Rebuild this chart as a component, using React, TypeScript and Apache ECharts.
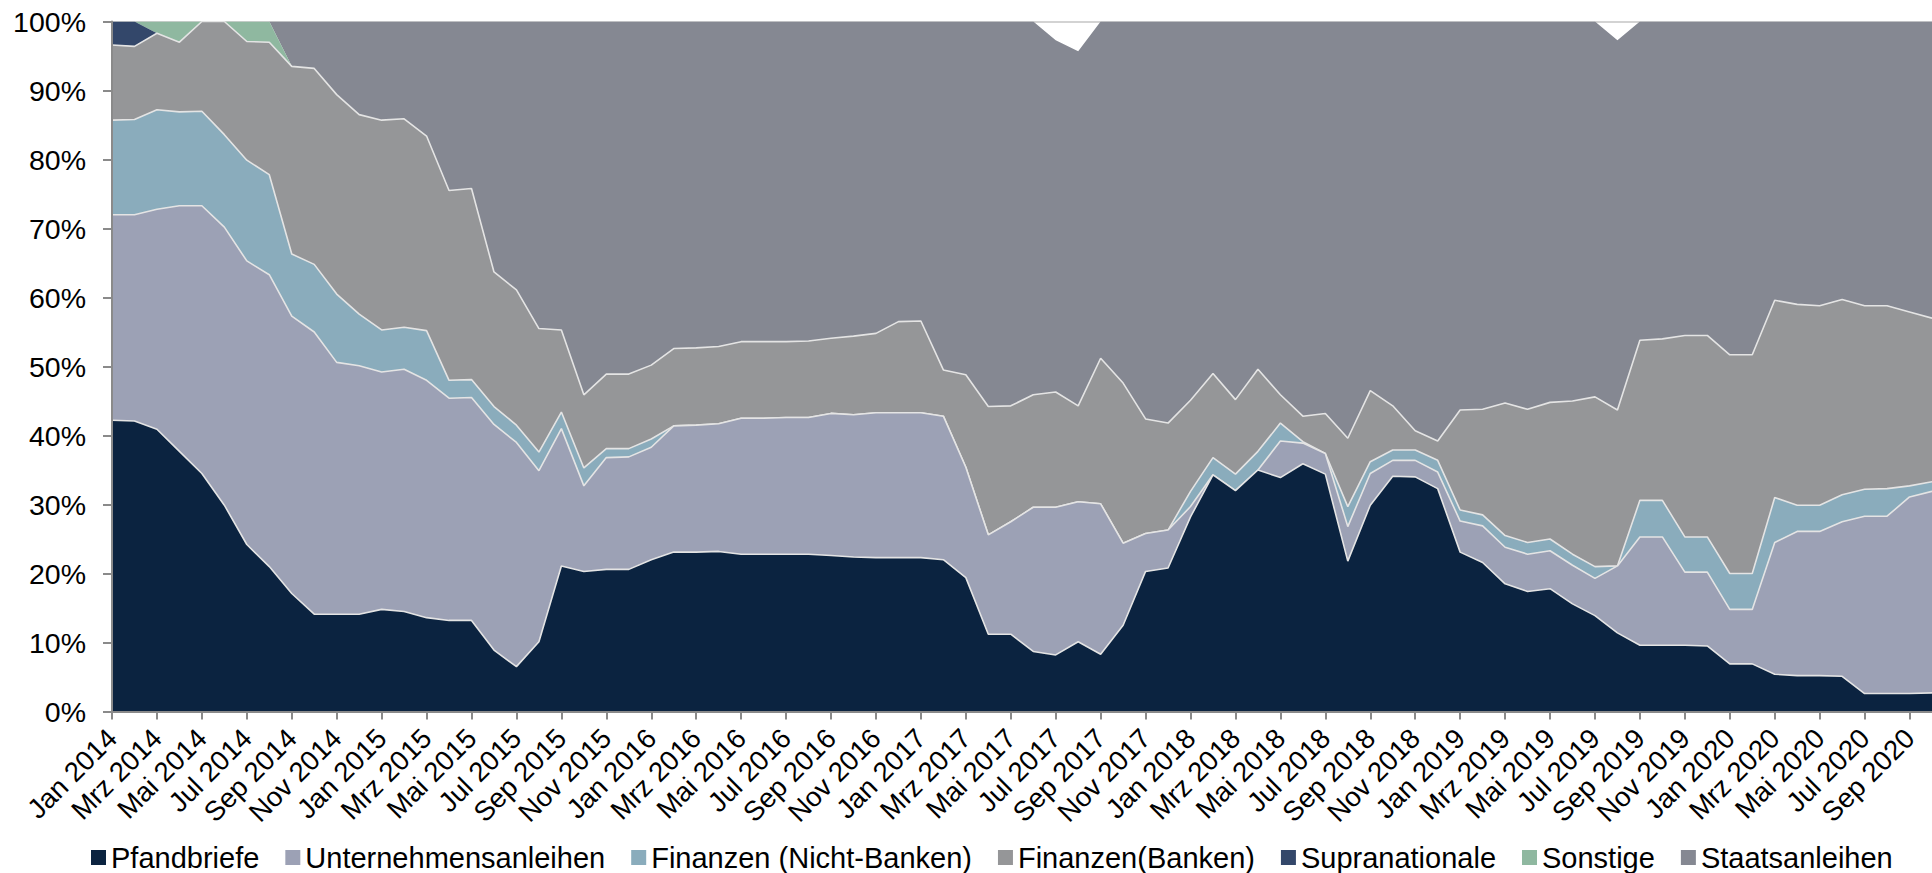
import React, { useEffect, useRef } from "react";
import * as echarts from "echarts";

const monthNames = ["Jan", "Feb", "Mrz", "Apr", "Mai", "Jun", "Jul", "Aug", "Sep", "Okt", "Nov", "Dez"];
const years = [2014, 2015, 2016, 2017, 2018, 2019, 2020];
const monthCount = 82;
const categories: string[] = [];
for (let i = 0; i < monthCount; i++) {
  categories.push(`${monthNames[i % 12]} ${years[Math.floor(i / 12)]}`);
}

const seriesNames = [
  "Pfandbriefe",
  "Unternehmensanleihen",
  "Finanzen (Nicht-Banken)",
  "Finanzen(Banken)",
  "Supranationale",
  "Sonstige",
  "Staatsanleihen",
];

const seriesColors = ["#0b2340", "#9ca1b5", "#8aacbc", "#959698", "#33476a", "#8fb8a0", "#858892"];

const pfandbriefe = [
  42.2, 42.1, 40.9, 37.7, 34.5, 29.9, 24.2, 21.0, 17.1, 14.1,
  14.1, 14.1, 14.8, 14.5, 13.6, 13.2, 13.2, 8.9, 6.5, 10.1,
  21.1, 20.3, 20.6, 20.6, 22.0, 23.1, 23.1, 23.2, 22.8, 22.8,
  22.8, 22.8, 22.6, 22.4, 22.3, 22.3, 22.3, 22.0, 19.4, 11.2,
  11.2, 8.7, 8.2, 10.1, 8.3, 12.5, 20.3, 20.8, 28.2, 34.3,
  32.0, 35.0, 33.9, 35.9, 34.4, 21.8, 29.9, 34.1, 34.0, 32.3,
  23.1, 21.6, 18.5, 17.4, 17.8, 15.6, 13.9, 11.4, 9.6, 9.6,
  9.6, 9.5, 6.9, 6.9, 5.4, 5.2, 5.2, 5.1, 2.6, 2.6,
  2.6, 2.7,
];

const unternehmensanleihen = [
  29.8, 29.9, 31.9, 35.6, 38.8, 40.3, 41.1, 42.3, 40.2, 40.9,
  36.5, 36.0, 34.4, 35.1, 34.4, 32.2, 32.3, 32.7, 32.5, 24.8,
  19.9, 12.4, 16.2, 16.3, 16.3, 18.3, 18.4, 18.5, 19.7, 19.7,
  19.8, 19.8, 20.6, 20.6, 21.0, 21.0, 21.0, 20.8, 16.0, 14.4,
  16.3, 20.9, 21.4, 20.3, 21.8, 11.9, 5.5, 5.5, 1.5, 0,
  0, 0, 5.3, 3.0, 3.0, 5.0, 4.6, 2.3, 2.4, 2.4,
  4.5, 5.3, 5.3, 5.4, 5.5, 5.6, 5.4, 9.7, 15.7, 15.7,
  10.6, 10.7, 7.9, 7.9, 19.1, 20.9, 20.9, 22.4, 25.7, 25.7,
  28.5, 29.2,
];

const finanzenNichtBanken = [
  13.7, 13.8, 14.4, 13.6, 13.7, 13.4, 14.6, 14.5, 9.0, 9.8,
  9.9, 7.5, 6.1, 6.1, 7.2, 2.6, 2.6, 2.6, 2.5, 2.7,
  2.4, 2.6, 1.3, 1.2, 1.2, 0, 0, 0, 0, 0,
  0, 0, 0, 0, 0, 0, 0, 0, 0, 0,
  0, 0, 0, 0, 0, 0, 0, 0, 2.2, 2.5,
  2.4, 2.7, 2.6, 0.2, 0, 2.9, 1.7, 1.5, 1.5, 1.7,
  1.6, 1.6, 1.7, 1.7, 1.7, 1.6, 1.7, 0, 5.3, 5.3,
  5.1, 5.1, 5.2, 5.2, 6.5, 3.8, 3.8, 3.9, 3.9, 4.0,
  1.6, 1.4,
];

const finanzenBanken = [
  10.9, 10.6, 11.1, 10.1, 13.0, 16.4, 17.2, 19.2, 27.2, 28.4,
  28.9, 28.9, 30.4, 30.2, 28.2, 27.5, 27.7, 19.5, 19.6, 17.9,
  11.9, 10.6, 10.8, 10.8, 10.7, 11.2, 11.2, 11.2, 11.1, 11.1,
  11.0, 11.1, 10.9, 11.4, 11.5, 13.2, 13.3, 6.7, 13.4, 18.6,
  16.8, 16.3, 16.7, 13.9, 21.1, 23.2, 16.6, 15.5, 13.2, 12.2,
  10.8, 11.9, 4.1, 3.7, 5.8, 9.9, 10.3, 6.4, 2.8, 2.8,
  14.5, 15.3, 19.2, 19.3, 19.8, 22.2, 24.6, 22.6, 23.2, 23.4,
  29.2, 29.2, 31.7, 31.7, 28.6, 29.1, 28.9, 28.3, 26.6, 26.5,
  25.2, 23.7,
];

const supranationale = [
  3.4, 3.6, 0, 0, 0, 0, 0, 0, 0, 0,
  0, 0, 0, 0, 0, 0, 0, 0, 0, 0,
  0, 0, 0, 0, 0, 0, 0, 0, 0, 0,
  0, 0, 0, 0, 0, 0, 0, 0, 0, 0,
  0, 0, 0, 0, 0, 0, 0, 0, 0, 0,
  0, 0, 0, 0, 0, 0, 0, 0, 0, 0,
  0, 0, 0, 0, 0, 0, 0, 0, 0, 0,
  0, 0, 0, 0, 0, 0, 0, 0, 0, 0,
  0, 0,
];

const sonstige = [
  0, 0, 1.7, 3.0, 0, 0, 2.9, 3.0, 0, 0,
  0, 0, 0, 0, 0, 0, 0, 0, 0, 0,
  0, 0, 0, 0, 0, 0, 0, 0, 0, 0,
  0, 0, 0, 0, 0, 0, 0, 0, 0, 0,
  0, 0, 0, 0, 0, 0, 0, 0, 0, 0,
  0, 0, 0, 0, 0, 0, 0, 0, 0, 0,
  0, 0, 0, 0, 0, 0, 0, 0, 0, 0,
  0, 0, 0, 0, 0, 0, 0, 0, 0, 0,
  0, 0,
];

const staatsanleihen = [
  0, 0, 0, 0, 0, 0, 0, 0, 6.5, 6.8,
  10.6, 13.5, 14.3, 14.1, 16.6, 24.5, 24.2, 36.3, 38.9, 44.5,
  44.7, 54.1, 51.1, 51.1, 49.8, 47.4, 47.3, 47.1, 46.4, 46.4,
  46.4, 46.3, 45.9, 45.6, 45.2, 43.5, 43.4, 50.5, 51.2, 55.8,
  55.7, 54.1, 51.0, 51.4, 48.8, 52.4, 57.6, 58.2, 54.9, 51.0,
  54.8, 50.4, 54.1, 57.2, 56.8, 60.4, 53.5, 55.7, 59.3, 60.8,
  56.3, 56.2, 55.3, 56.2, 55.2, 55.0, 54.4, 53.6, 46.2, 46.0,
  45.5, 45.5, 48.3, 48.3, 40.4, 41.0, 41.2, 40.3, 41.2, 41.2,
  42.1, 43.0,
];

const seriesData = [
  pfandbriefe,
  unternehmensanleihen,
  finanzenNichtBanken,
  finanzenBanken,
  supranationale,
  sonstige,
  staatsanleihen,
];

const FONT = "'Liberation Sans', Arial, Helvetica, sans-serif";

export default function App() {
  const ref = useRef<HTMLDivElement>(null);

  useEffect(() => {
    if (!ref.current) return;
    const chart = echarts.init(ref.current, undefined, { renderer: "svg" });
    const series = seriesNames.map((name, k) => ({
      name,
      type: "line",
      stack: "total",
      yAxisIndex: 0,
      data: seriesData[k],
      symbol: "none",
      showSymbol: false,
      silent: true,
      z: 20 - k,
      itemStyle: { color: seriesColors[k] },
      lineStyle: k < 4 ? { color: "#e4e4e4", width: 1.6 } : { width: 0, opacity: 0 },
      areaStyle: { color: seriesColors[k], opacity: 1 },
      emphasis: { disabled: true },
    }));

    chart.setOption({
      animation: false,
      backgroundColor: "#ffffff",
      textStyle: { fontFamily: FONT },
      grid: { left: 112, top: 21.5, width: 1820, height: 690, containLabel: false },
      legend: {
        show: true,
        left: 91,
        top: 843,
        padding: 0,
        itemGap: 26,
        itemWidth: 15,
        itemHeight: 15,
        icon: "rect",
        data: seriesNames,
        textStyle: { fontSize: 29, color: "#000", fontFamily: FONT },
        itemStyle: { borderWidth: 0 },
        selectedMode: false,
      },
      xAxis: {
        type: "category",
        boundaryGap: false,
        data: categories,
        z: 30,
        axisLine: { show: true, lineStyle: { color: "#8a8a8a", width: 2 } },
        axisTick: { show: true, interval: 1, length: 8, lineStyle: { color: "#8a8a8a", width: 2 } },
        axisLabel: {
          interval: 1,
          rotate: 45,
          fontSize: 27.5,
          color: "#000",
          fontFamily: FONT,
          margin: 22,
        },
        splitLine: { show: false },
      },
      yAxis: [
        {
          type: "value",
          min: 0,
          max: 100,
          interval: 10,
          z: 30,
          axisLine: { show: true, lineStyle: { color: "#8a8a8a", width: 2 } },
          axisTick: { show: true, length: 9, lineStyle: { color: "#8a8a8a", width: 2 } },
          axisLabel: {
            formatter: "{value}%",
            fontSize: 28.5,
            color: "#000",
            fontFamily: FONT,
            margin: 26,
          },
          splitLine: { show: false },
        },
        {
          type: "value",
          min: 0,
          max: 100,
          interval: 10,
          z: 0,
          position: "left",
          axisLine: { show: false },
          axisTick: { show: false },
          axisLabel: { show: false },
          splitLine: { show: true, lineStyle: { color: "#c4c4c4", width: 1.5 } },
        },
      ],
      series,
    });
    return () => chart.dispose();
  }, []);

  return (
    <div
      ref={ref}
      style={{ position: "fixed", left: 0, top: 0, width: 1932, height: 873, background: "#fff" }}
    />
  );
}
